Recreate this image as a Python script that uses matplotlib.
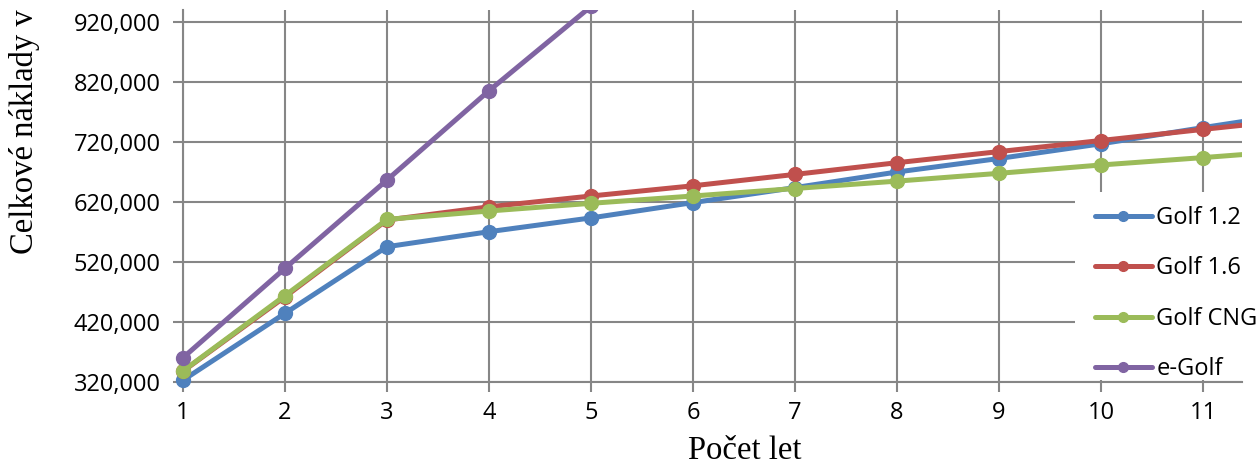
import matplotlib
matplotlib.use("Agg")
import matplotlib.pyplot as plt
from matplotlib.patches import Rectangle
from matplotlib.ticker import FuncFormatter, MultipleLocator

# data (Kc per year of ownership)
years = [1, 2, 3, 4, 5, 6, 7, 8, 9, 10, 11, 12]
golf_12 = [323000, 434500, 545500, 570500, 593500, 619000, 644000, 670000, 692500, 717000, 744000, 770000]
golf_16 = [338000, 462000, 590000, 612000, 630000, 647000, 666000, 685500, 704000, 722500, 741000, 759000]
golf_cng = [338500, 464000, 591000, 605000, 617800, 630000, 642500, 654800, 667800, 681700, 694000, 707000]
e_golf = [360500, 509500, 656700, 805500, 946000, 1090000, 1235000, 1380000, 1525000, 1670000, 1815000, 1960000]
labels = ["Golf 1.2", "Golf 1.6", "Golf CNG", "e-Golf"]
colors = ["#4F81BD", "#C0504D", "#9BBB59", "#8064A2"]

W, H = 1257, 472
fig = plt.figure(figsize=(W / 100, H / 100), dpi=100)
ax = fig.add_axes([183 / W, 1 - 382 / H, 1059 / W, 372 / H])

grid_c = "#868686"
tick_font = "Open Sans"
fs = 17

# clip only on top/right so the first markers stay whole
clip = Rectangle((-0.05, -0.1), 1.05, 1.1, transform=ax.transAxes, visible=False)
ax.add_patch(clip)

for vals, lab, c in zip([golf_12, golf_16, golf_cng, e_golf], labels, colors):
    ln, = ax.plot(years, vals, color=c, lw=3.6, marker="o", ms=10, label=lab,
                  solid_capstyle="round", zorder=3)
    ln.set_clip_path(clip)

ax.set_xlim(1, 1 + 1059 / 102)
ax.set_ylim(320000, 940000)
ax.xaxis.set_major_locator(MultipleLocator(1))
ax.set_yticks(range(320000, 920001, 100000))
ax.yaxis.set_major_formatter(FuncFormatter(lambda v, p: f"{int(v):,}"))

ax.grid(True, color=grid_c, lw=1.5)
ax.set_axisbelow(True)
for s in ["top", "right"]:
    ax.spines[s].set_visible(False)
for s in ["left", "bottom"]:
    ax.spines[s].set_color(grid_c)
    ax.spines[s].set_linewidth(1.5)
ax.tick_params(axis="both", color=grid_c, width=1.5, length=7, labelsize=fs,
               labelcolor="black")
ax.tick_params(axis="y", pad=9)
ax.tick_params(axis="x", pad=7)
for t in ax.get_xticklabels() + ax.get_yticklabels():
    t.set_family(tick_font)

fig.text(25 / W, 1 - 132 / H, "Celkové náklady v", rotation=90, ha="center", va="center",
         family="Liberation Serif", fontsize=23.5)
fig.text(745 / W, 1 - 451 / H, "Počet let", ha="center", va="center",
         family="Liberation Serif", fontsize=23.5)

# white legend area covering the grid
ax.add_patch(Rectangle((1075 / W, 1 - 380 / H), (W - 1075) / W, 188 / H,
                       transform=fig.transFigure, facecolor="white", edgecolor="none",
                       clip_on=False, zorder=2))

leg = ax.legend(loc="upper left", bbox_to_anchor=(1095 / W, 1 - 206 / H),
                bbox_transform=fig.transFigure, frameon=False,
                prop={"family": tick_font, "size": fs}, handlelength=2.4,
                handletextpad=0.2, labelspacing=1.12, borderpad=0, borderaxespad=0,
                markerscale=0.7)
leg.set_zorder(5)

fig.savefig("out.png", dpi=100)
